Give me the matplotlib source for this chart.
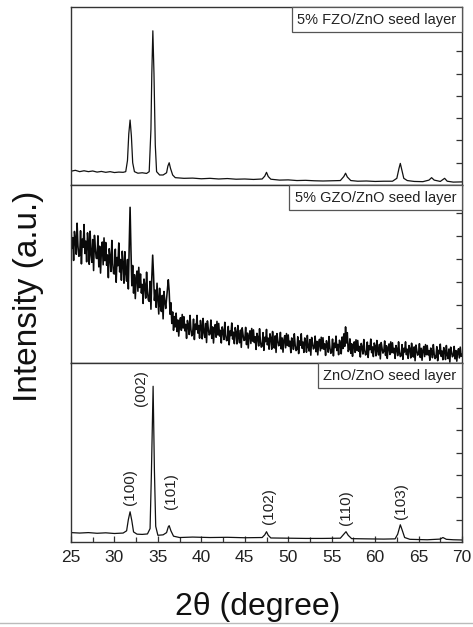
import matplotlib
matplotlib.use('Agg')
import matplotlib.pyplot as plt
from matplotlib.offsetbox import AnchoredText
from matplotlib.lines import Line2D

plt.rcParams['font.family'] = ['Liberation Sans', 'DejaVu Sans']

# 5% FZO/ZnO seed layer
fzo_2theta = [25.0, 25.5, 26.0, 26.5, 27.0, 27.5, 28.0, 28.5, 29.0, 29.5, 30.0, 30.5, 31.0, 31.3,
              31.5, 31.65, 31.8, 31.95, 32.1, 32.3, 32.7, 33.2, 33.7, 34.0, 34.2, 34.3, 34.42,
              34.55, 34.7, 34.85, 35.2, 35.6, 36.0, 36.15, 36.3, 36.45, 36.7, 37.0, 38.0, 39.0,
              40.0, 41.0, 42.0, 43.0, 44.0, 45.0, 46.0, 47.0, 47.3, 47.5, 47.7, 48.0, 49.0, 50.0,
              51.0, 52.0, 53.0, 54.0, 55.0, 56.0, 56.4, 56.6, 56.8, 57.2, 58.0, 59.0, 60.0, 61.0,
              62.0, 62.5, 62.75, 62.9, 63.05, 63.3, 63.7, 64.5, 65.5, 66.2, 66.5, 66.8, 67.5, 68.0,
              68.3, 69.0, 70.0]
fzo_int = [0.62, 0.66, 0.60, 0.64, 0.60, 0.63, 0.58, 0.61, 0.57, 0.60, 0.56, 0.58, 0.57, 0.60,
           1.10, 2.30, 2.92, 2.20, 1.00, 0.60, 0.53, 0.55, 0.52, 0.60, 2.50, 5.00, 6.93,
           5.00, 1.80, 0.60, 0.45, 0.45, 0.55, 0.85, 1.00, 0.75, 0.45, 0.33, 0.30, 0.31,
           0.28, 0.30, 0.27, 0.29, 0.26, 0.27, 0.25, 0.27, 0.40, 0.57, 0.38, 0.26, 0.22, 0.23,
           0.20, 0.21, 0.19, 0.18, 0.19, 0.20, 0.38, 0.53, 0.36, 0.20, 0.17, 0.18, 0.16, 0.17,
           0.17, 0.30, 0.75, 0.97, 0.72, 0.30, 0.20, 0.16, 0.15, 0.22, 0.33, 0.22, 0.16, 0.30,
           0.17, 0.13, 0.14]

# 5% GZO/ZnO seed layer, one row per degree (25.0 ... 69.9), step 0.1, last point at 70.0
gzo_start, gzo_step = 25.0, 0.1
gzo_int = [
    5.47, 4.48, 4.93, 3.94, 5.20, 4.84, 4.21, 5.56, 4.57, 4.12,    # 25
    4.15, 5.23, 3.79, 4.87, 4.51, 5.50, 4.24, 4.78, 3.88, 5.14,    # 26
    4.67, 3.77, 5.21, 4.22, 3.86, 4.85, 3.50, 5.03, 4.49, 4.04,    # 27
    4.02, 5.01, 3.66, 4.56, 3.39, 4.38, 4.74, 3.75, 4.92, 3.93,    # 28
    4.72, 3.73, 4.18, 3.19, 4.45, 4.09, 3.46, 4.81, 3.82, 3.37,    # 29
    3.35, 4.43, 2.99, 4.07, 3.71, 4.70, 3.44, 3.98, 3.08, 4.34,    # 30
    3.81, 2.95, 4.32, 3.38, 3.04, 3.98, 2.70, 4.60, 6.25, 4.40,    # 31
    2.84, 3.72, 2.52, 3.32, 2.28, 3.16, 3.48, 2.60, 3.64, 2.76,    # 32
    3.35, 2.52, 2.90, 2.07, 3.13, 2.83, 2.30, 3.43, 2.60, 2.22,    # 33
    2.16, 3.03, 1.82, 3.20, 4.17, 3.30, 2.20, 2.65, 1.90, 2.95,    # 34
    2.29, 1.61, 2.73, 1.97, 1.72, 2.42, 1.40, 2.59, 2.16, 1.85,    # 35
    2.30, 2.70, 3.10, 2.60, 1.60, 2.10, 1.20, 1.70, 0.90, 1.50,    # 36
    1.05, 1.65, 0.85, 1.35, 0.65, 1.25, 1.45, 0.90, 1.59, 1.00,    # 37
    1.49, 0.88, 1.16, 0.55, 1.33, 1.11, 0.72, 1.55, 0.94, 0.66,    # 38
    0.75, 1.39, 0.50, 1.17, 0.94, 1.55, 0.78, 1.11, 0.56, 1.33,    # 39
    1.07, 0.53, 1.42, 0.82, 0.59, 1.20, 0.37, 1.31, 0.98, 0.70,    # 40
    0.75, 1.35, 0.55, 1.05, 0.35, 0.95, 1.15, 0.60, 1.29, 0.70,    # 41
    1.20, 0.65, 0.90, 0.35, 1.05, 0.85, 0.50, 1.25, 0.70, 0.45,    # 42
    0.47, 1.07, 0.27, 0.87, 0.67, 1.22, 0.52, 0.82, 0.32, 1.02,    # 43
    0.81, 0.31, 1.11, 0.56, 0.36, 0.91, 0.16, 1.01, 0.71, 0.46,    # 44
    0.48, 1.03, 0.28, 0.78, 0.13, 0.68, 0.88, 0.33, 0.98, 0.43,    # 45
    0.92, 0.37, 0.62, 0.07, 0.77, 0.57, 0.22, 0.97, 0.42, 0.17,    # 46
    0.22, 0.80, 0.03, 0.60, 0.41, 0.94, 0.27, 0.56, 0.08, 0.75,    # 47
    0.56, 0.08, 0.85, 0.32, 0.13, 0.66, -0.06, 0.76, 0.47, 0.23,   # 48
    0.28, 0.81, 0.09, 0.57, -0.05, 0.48, 0.67, 0.14, 0.76, 0.24,   # 49
    0.70, 0.20, 0.43, -0.07, 0.57, 0.39, 0.07, 0.75, 0.25, 0.02,   # 50
    0.07, 0.62, -0.11, 0.44, 0.25, 0.75, 0.12, 0.39, -0.06, 0.57,  # 51
    0.41, -0.05, 0.68, 0.18, 0.00, 0.50, -0.18, 0.59, 0.32, 0.09,  # 52
    0.15, 0.65, -0.03, 0.42, -0.17, 0.33, 0.51, 0.01, 0.60, 0.10,  # 53
    0.58, 0.08, 0.31, -0.19, 0.45, 0.27, -0.05, 0.63, 0.13, -0.10, # 54
    -0.03, 0.52, -0.21, 0.34, 0.15, 0.65, 0.02, 0.29, -0.16, 0.47, # 55
    0.34, -0.12, 0.61, 0.11, 0.75, 0.20, 1.05, 0.35, 0.80, -0.02,  # 56
    0.07, 0.53, -0.10, 0.32, -0.23, 0.23, 0.40, -0.06, 0.49, 0.02, # 57
    0.46, -0.01, 0.20, -0.26, 0.33, 0.16, -0.13, 0.50, 0.04, -0.17, # 58
    -0.11, 0.39, -0.28, 0.23, 0.06, 0.52, -0.07, 0.18, -0.24, 0.35, # 59
    0.21, -0.21, 0.46, 0.00, -0.17, 0.29, -0.34, 0.37, 0.12, -0.09, # 60
    -0.02, 0.44, -0.19, 0.23, -0.32, 0.14, 0.31, -0.15, 0.40, -0.07, # 61
    0.36, -0.08, 0.12, -0.32, 0.24, 0.08, -0.20, 0.40, -0.04, -0.24, # 62
    -0.20, 0.28, -0.36, 0.12, -0.04, 0.40, -0.16, 0.08, -0.32, 0.24, # 63
    0.10, -0.30, 0.34, -0.10, -0.26, 0.18, -0.42, 0.26, 0.02, -0.18, # 64
    -0.12, 0.32, -0.28, 0.12, -0.40, 0.04, 0.20, -0.24, 0.28, -0.16, # 65
    0.24, -0.17, 0.02, -0.40, 0.13, -0.02, -0.29, 0.28, -0.14, -0.33, # 66
    -0.27, 0.19, -0.42, 0.03, -0.12, 0.30, -0.23, 0.00, -0.38, 0.15, # 67
    0.01, -0.37, 0.24, -0.18, -0.33, 0.09, -0.48, 0.17, -0.06, -0.25, # 68
    -0.19, 0.20, -0.34, 0.02, -0.44, -0.05, 0.10, -0.30, 0.17, -0.23, # 69
    -0.15,
]
gzo_2theta = [round(gzo_start + gzo_step * i, 2) for i in range(len(gzo_int))]

# ZnO/ZnO seed layer
zno_2theta = [25.0, 26.0, 27.0, 28.0, 29.0, 30.0, 31.0, 31.4, 31.6, 31.8, 32.0, 32.2, 32.6,
              33.2, 33.8, 34.1, 34.25, 34.45, 34.6, 34.75, 35.0, 35.6, 36.0, 36.2, 36.3, 36.5,
              36.8, 37.5, 39.0, 41.0, 43.0, 45.0, 47.0, 47.3, 47.5, 47.7, 48.0, 50.0, 52.0, 54.0,
              56.0, 56.4, 56.65, 56.9, 57.3, 59.0, 61.0, 62.3, 62.6, 62.9, 63.1, 63.4, 64.0,
              66.0, 67.5, 67.8, 68.2, 69.0, 70.0]
zno_int = [0.42, 0.40, 0.42, 0.39, 0.41, 0.38, 0.40, 0.50, 1.00, 1.35, 0.95, 0.45, 0.35,
           0.34, 0.36, 0.60, 3.00, 6.96, 3.20, 0.70, 0.30, 0.32, 0.42, 0.68, 0.73, 0.50,
           0.26, 0.20, 0.22, 0.20, 0.21, 0.19, 0.20, 0.32, 0.46, 0.30, 0.18, 0.17, 0.16, 0.16,
           0.17, 0.35, 0.46, 0.30, 0.15, 0.14, 0.13, 0.14, 0.35, 0.77, 0.55, 0.20, 0.12,
           0.10, 0.13, 0.20, 0.12, 0.10, 0.09]

# Miller indices marked on the ZnO pattern
hkl_labels = ['(100)', '(002)', '(101)', '(102)', '(110)', '(103)']
hkl_2theta = [31.8, 33.1, 36.5, 47.8, 56.7, 63.0]
hkl_ypos = [2.46, 6.88, 2.28, 1.60, 1.52, 1.83]

panel_names = ['5% FZO/ZnO seed layer', '5% GZO/ZnO seed layer', 'ZnO/ZnO seed layer']
x_ticks = [25, 30, 35, 40, 45, 50, 55, 60, 65, 70]

fig = plt.figure(figsize=(4.73, 6.27), dpi=100)
left, width = 71 / 473, 391 / 473
ax_top = fig.add_axes([left, 1 - 185 / 627, width, 178 / 627])
ax_mid = fig.add_axes([left, 1 - 363 / 627, width, 178 / 627])
ax_bot = fig.add_axes([left, 1 - 542 / 627, width, 179 / 627])

line_kw = dict(color='#111111', lw=0.9)
ax_top.plot(fzo_2theta, fzo_int, **line_kw)
ax_mid.plot(gzo_2theta, gzo_int, color='#0a0a0a', lw=1.15)
ax_bot.plot(zno_2theta, zno_int, **line_kw)

ax_top.set_ylim(0, 8)
ax_mid.set_ylim(-0.52, 7.22)
ax_bot.set_ylim(0, 8)

for ax, name in zip([ax_top, ax_mid, ax_bot], panel_names):
    ax.set_xlim(25, 70)
    ax.set_yticks(range(1, 8))
    ax.tick_params(axis='y', which='both', left=False, right=True, labelleft=False,
                   direction='in', length=4, width=0.9, color='#333333')
    for sp in ax.spines.values():
        sp.set_color('#333333')
        sp.set_linewidth(1.0)
    box = AnchoredText(name, loc='upper right', borderpad=0, pad=0.38, frameon=True,
                       prop=dict(size=10.5, color='#222222'))
    box.patch.set_edgecolor('#555555')
    box.patch.set_linewidth(0.9)
    box.zorder = 5
    ax.add_artist(box)

for ax in [ax_top, ax_mid]:
    ax.tick_params(axis='x', which='both', bottom=False, top=False, labelbottom=False)

ax_bot.set_xticks(x_ticks)
ax_bot.set_xticks([t + 2.5 for t in x_ticks[:-1]], minor=True)
ax_bot.tick_params(axis='x', which='both', direction='in', top=False, width=0.9,
                   color='#333333', labelsize=12.5, pad=6, labelcolor='#222222')
ax_bot.tick_params(axis='x', which='major', length=4.5)
ax_bot.tick_params(axis='x', which='minor', length=3.5)

for lab, tx, ty in zip(hkl_labels, hkl_2theta, hkl_ypos):
    ax_bot.text(tx, ty, lab, rotation=90, ha='center', va='center', fontsize=11,
                color='#222222')

fig.text(29 / 473, 1 - 296 / 627, 'Intensity (a.u.)', rotation=90, ha='center',
         va='center', fontsize=24, color='#111111')
fig.text(258 / 473, 1 - 607 / 627, '2θ (degree)', ha='center', va='center',
         fontsize=23, color='#111111')
fig.add_artist(Line2D([0, 1], [1 - 623 / 627, 1 - 623 / 627], transform=fig.transFigure,
                      color='#bbbbbb', lw=1.0))

fig.savefig('out.png', dpi=100)
